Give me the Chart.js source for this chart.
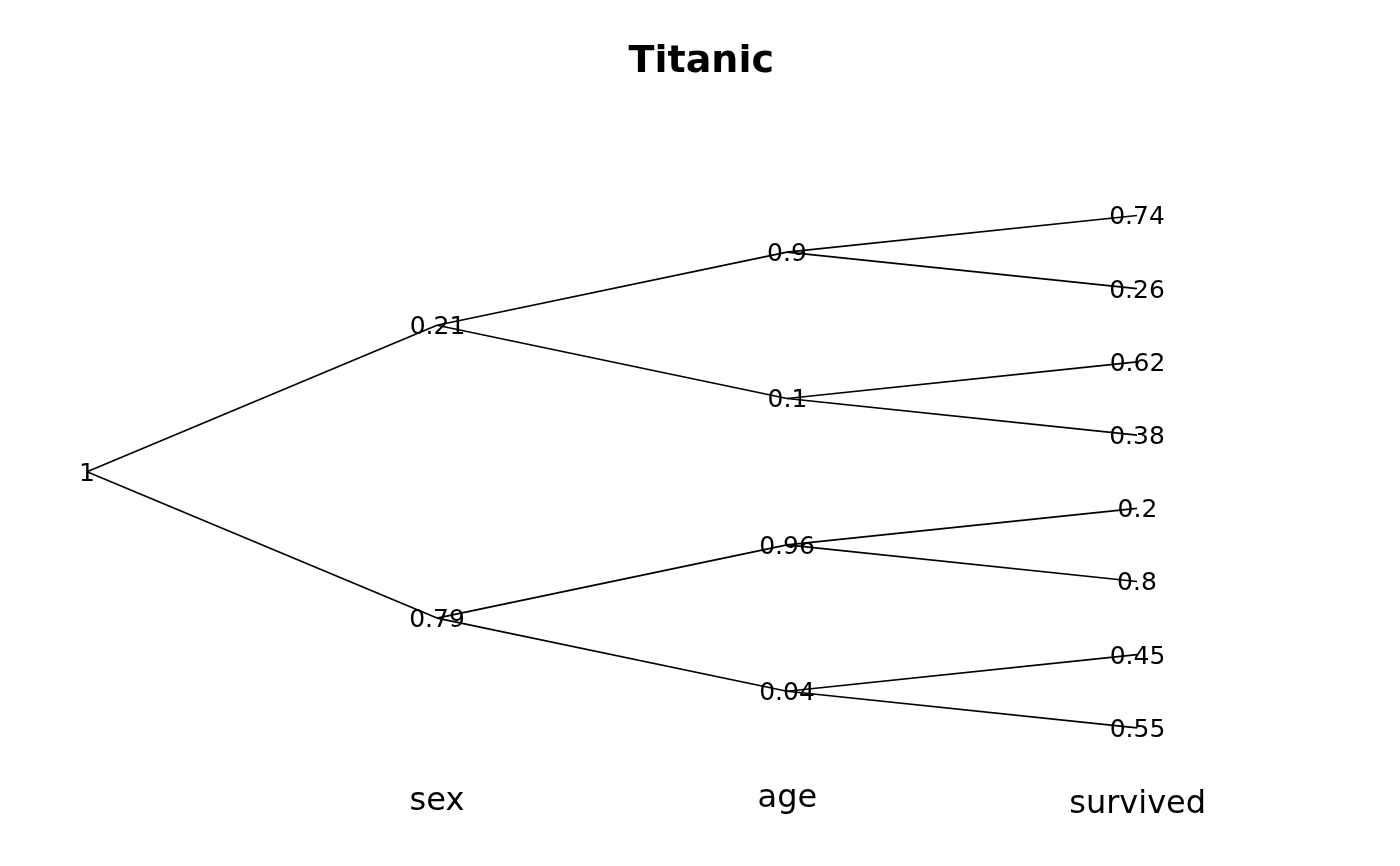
<!DOCTYPE html>
<html>
<head>
<meta charset="utf-8">
<title>Titanic</title>
<script src="https://cdn.jsdelivr.net/npm/chart.js@4"></script>
<style>
  html, body { margin: 0; padding: 0; background: #fff; }
  #wrap { width: 1400px; height: 866px; }
</style>
</head>
<body>
<div id="wrap"><canvas id="tree_chart"></canvas></div>
<script>
// Tree data: one array per level, children listed in parent order (2 per node)
var chartTitle    = 'Titanic'
var levelNames    = ['sex', 'age', 'survived']
var rootProb      = [1]
var sexProbs      = [0.21, 0.79]
var ageProbs      = [0.9, 0.1, 0.96, 0.04]
var survivedProbs = [0.74, 0.26, 0.62, 0.38, 0.2, 0.8, 0.45, 0.55]

var levels = [rootProb, sexProbs, ageProbs, survivedProbs]

// Layout: leaves sit on rows 0..n-1, every parent in the middle of its children
var rows = []
rows[levels.length - 1] = levels[levels.length - 1].map(function (v, i) { return i })
for (var l = levels.length - 2; l >= 0; l--) {
    rows[l] = levels[l].map(function (v, i) {
        return (rows[l + 1][2 * i] + rows[l + 1][2 * i + 1]) / 2
    })
}

// One small line dataset per branch
var datasets = []
for (var l = 0; l < levels.length - 1; l++) {
    levels[l].forEach(function (v, i) {
        [2 * i, 2 * i + 1].forEach(function (c) {
            datasets.push({
                data: [{ x: l, y: rows[l][i] }, { x: l + 1, y: rows[l + 1][c] }],
                showLine: true,
                borderColor: '#000',
                borderWidth: 1.7,
                pointRadius: 0,
                pointHoverRadius: 0,
                clip: false
            })
        })
    })
}

// Draw text centred on its ink box
function inkText(ctx, text, cx, cy) {
    var m = ctx.measureText(text)
    var x = cx - (m.actualBoundingBoxRight - m.actualBoundingBoxLeft) / 2
    var y = cy + (m.actualBoundingBoxAscent - m.actualBoundingBoxDescent) / 2
    ctx.fillText(text, x, y)
}

var labelPlugin = {
    id: 'treeLabels',
    afterDatasetsDraw: function (chart) {
        var ctx = chart.ctx
        var xs = chart.scales.x, ys = chart.scales.y
        ctx.save()
        ctx.fillStyle = '#000'
        ctx.textAlign = 'left'
        ctx.textBaseline = 'alphabetic'

        // node probabilities
        ctx.font = '25px "DejaVu Sans"'
        levels.forEach(function (vals, l) {
            vals.forEach(function (v, i) {
                inkText(ctx, String(v), xs.getPixelForValue(l), ys.getPixelForValue(rows[l][i]))
            })
        })

        // level names under the tree
        ctx.font = '32px "DejaVu Sans"'
        var below = rows[levels.length - 1].length
        levelNames.forEach(function (name, k) {
            inkText(ctx, name, xs.getPixelForValue(k + 1), ys.getPixelForValue(below))
        })

        // title
        ctx.font = 'bold 38px "DejaVu Sans"'
        inkText(ctx, chartTitle, chart.width / 2, 58.5)
        ctx.restore()
    }
}

var ctx = document.getElementById('tree_chart')

new Chart(ctx, {
    type: 'scatter',
    data: { datasets: datasets },
    options: {
        responsive: true,
        maintainAspectRatio: false,
        animation: false,
        layout: { padding: 0 },
        plugins: {
            legend: { display: false },
            tooltip: { enabled: false }
        },
        scales: {
            x: { type: 'linear', display: false, min: -0.2486, max: 3.7514 },
            y: { type: 'linear', display: false, reverse: true, min: -2.944, max: 8.887 }
        }
    },
    plugins: [labelPlugin]
})
</script>
</body>
</html>
